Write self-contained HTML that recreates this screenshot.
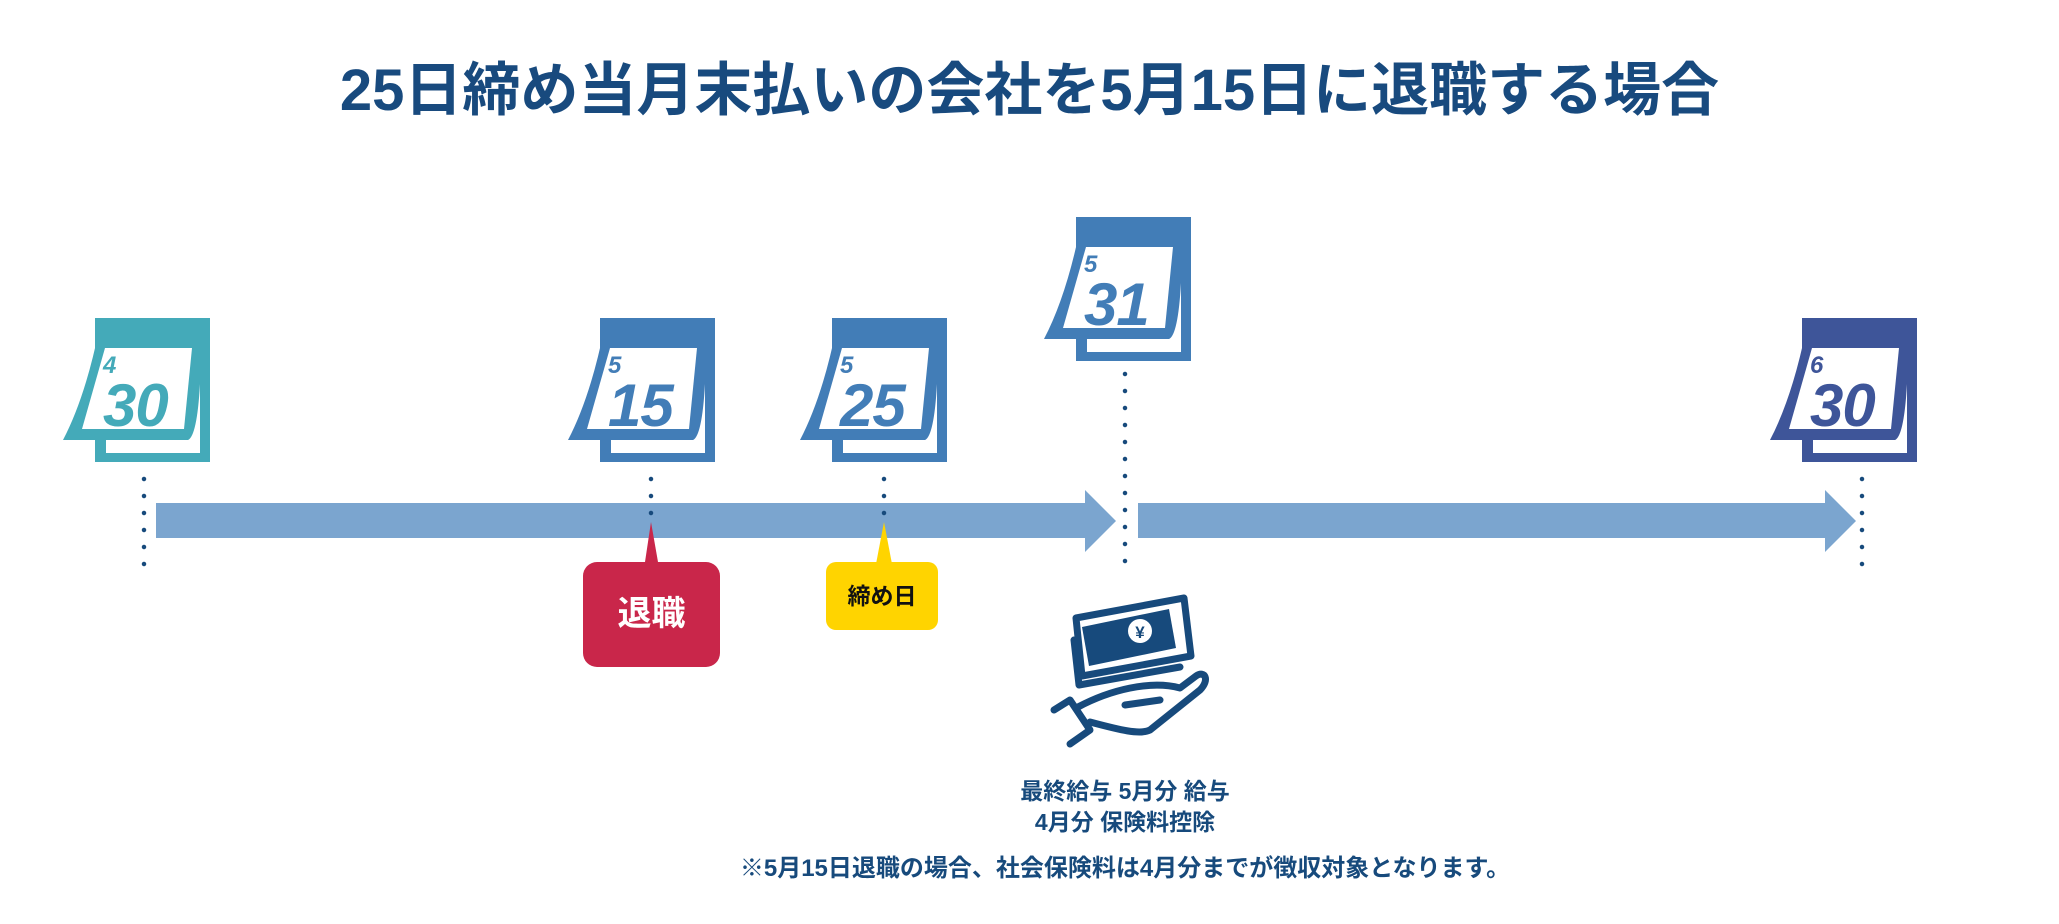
<!DOCTYPE html>
<html><head><meta charset="utf-8"><style>
html,body{margin:0;padding:0;background:#fff;}
body{width:2059px;height:924px;position:relative;overflow:hidden;font-family:"Liberation Sans","Noto Sans CJK JP",sans-serif;}
.t{position:absolute;white-space:nowrap;font-weight:bold;}
svg{position:absolute;}
</style></head><body>
<div class="t" style="left:0;width:2059px;top:56px;text-align:center;font-size:58px;color:#184a7e;line-height:70px;">25日締め当月末払いの会社を5月15日に退職する場合</div>

<svg width="2059" height="924" style="left:0;top:0">
<defs>
<g id="cal">
<rect x="32" y="0" width="115" height="144"/>
<path d="M36,12 L140,12 L140,66 Q136,118 125,122 L0,122 Q22,80 36,12 Z"/>
<path d="M137,66 L137,135 L43,135 L43,122 L125,122 Q134,118 137,66 Z" fill="#fff"/>
<path d="M42,30 L129,30 L121,111 L19,111 Z" fill="#fff"/>
</g>
</defs>
<g fill="#44aab9" transform="translate(63,318)"><use href="#cal"/>
<text x="40" y="55" font-size="24" font-style="italic" font-weight="bold" font-family="Liberation Sans">4</text>
<text x="40" y="108" font-size="60" font-style="italic" font-weight="bold" font-family="Liberation Sans" letter-spacing="-1">30</text></g>
<g fill="#427db7" transform="translate(568,318)"><use href="#cal"/>
<text x="40" y="55" font-size="24" font-style="italic" font-weight="bold" font-family="Liberation Sans">5</text>
<text x="40" y="108" font-size="60" font-style="italic" font-weight="bold" font-family="Liberation Sans" letter-spacing="-1">15</text></g>
<g fill="#427db7" transform="translate(800,318)"><use href="#cal"/>
<text x="40" y="55" font-size="24" font-style="italic" font-weight="bold" font-family="Liberation Sans">5</text>
<text x="40" y="108" font-size="60" font-style="italic" font-weight="bold" font-family="Liberation Sans" letter-spacing="-1">25</text></g>
<g fill="#427db7" transform="translate(1044,217)"><use href="#cal"/>
<text x="40" y="55" font-size="24" font-style="italic" font-weight="bold" font-family="Liberation Sans">5</text>
<text x="40" y="108" font-size="60" font-style="italic" font-weight="bold" font-family="Liberation Sans" letter-spacing="-1">31</text></g>
<g fill="#3e5599" transform="translate(1770,318)"><use href="#cal"/>
<text x="40" y="55" font-size="24" font-style="italic" font-weight="bold" font-family="Liberation Sans">6</text>
<text x="40" y="108" font-size="60" font-style="italic" font-weight="bold" font-family="Liberation Sans" letter-spacing="-1">30</text></g>

<path d="M156,503 L1085,503 L1085,490 L1116,521 L1085,552 L1085,538 L156,538 Z" fill="#7ba5cf"/>
<path d="M1138,503 L1825,503 L1825,490 L1856,521 L1825,552 L1825,538 L1138,538 Z" fill="#7ba5cf"/>

<g stroke="#174a7c" stroke-width="4.5" stroke-linecap="round" stroke-dasharray="0 17">
<line x1="144" y1="479" x2="144" y2="566"/>
<line x1="651" y1="479" x2="651" y2="530"/>
<line x1="884" y1="479" x2="884" y2="530"/>
<line x1="1125" y1="374" x2="1125" y2="566"/>
<line x1="1862" y1="479" x2="1862" y2="566"/>
</g>

<path d="M645,562 L651,522 L658,562 Z" fill="#c9264a"/>
<rect x="583" y="562" width="137" height="105" rx="14" fill="#c9264a"/>
<path d="M876,564 L884,522 L892,564 Z" fill="#ffd400"/>
<rect x="826" y="562" width="112" height="68" rx="10" fill="#ffd400"/>

<g fill="none" stroke="#174a7c" stroke-width="7" stroke-linejoin="round" stroke-linecap="round">
<path d="M1082,627 L1169,609 L1176,648 L1089,666 Z" fill="#174a7c" stroke="none"/>
<path d="M1076,618 L1184,598 L1191,656 L1082,676 Z"/>
<path d="M1074,640 L1079,685 L1180,667"/>
<path d="M1054,710 L1070,700 L1090,730 L1070,744"/>
<path d="M1078,707 C1110,690 1150,680 1180,688 L1196,676 C1205,670 1210,680 1200,690 L1150,730 C1140,735 1120,730 1090,722"/>
<path d="M1125,705 L1160,700"/>
</g>
<circle cx="1140" cy="631" r="12" fill="#fff"/>
<text x="1140" y="638" font-size="17" font-weight="bold" fill="#174a7c" text-anchor="middle" font-family="Liberation Sans">¥</text>
</svg>

<div class="t" style="left:583px;width:137px;top:592px;text-align:center;font-size:34px;color:#fff;line-height:44px;">退職</div>
<div class="t" style="left:826px;width:112px;top:580px;text-align:center;font-size:23px;color:#111;line-height:32px;">締め日</div>

<div class="t" style="left:925px;width:400px;top:776px;text-align:center;font-size:23px;color:#174a7c;line-height:31px;">最終給与 5月分 給与<br>4月分 保険料控除</div>
<div class="t" style="left:425px;width:1400px;top:854px;text-align:center;font-size:24px;color:#174a7c;line-height:30px;">※5月15日退職の場合、社会保険料は4月分までが徴収対象となります。</div>
</body></html>
